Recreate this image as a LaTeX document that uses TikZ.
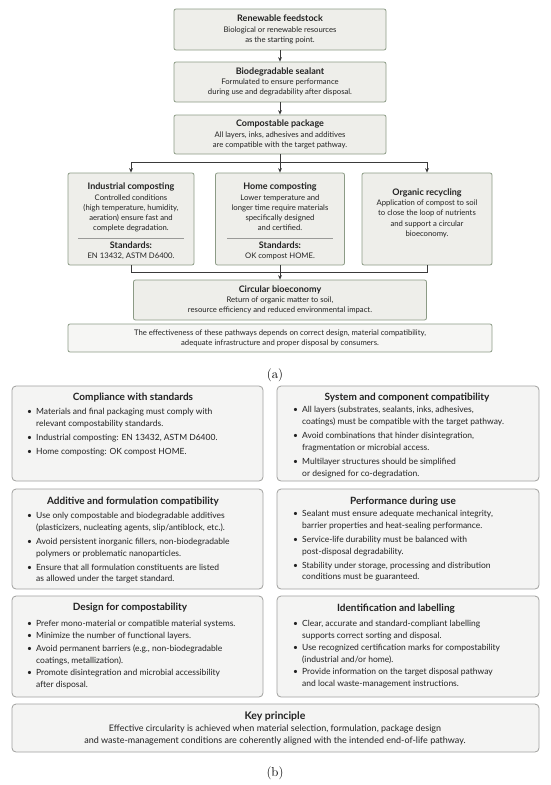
\documentclass[tikz,border=0pt]{standalone}
\usepackage{fontspec}
\setsansfont{Lato}
\usetikzlibrary{positioning,arrows.meta}

\definecolor{flowfill}{HTML}{EEEEEA}
\definecolor{flowedge}{HTML}{8C9B86}
\definecolor{notefill}{HTML}{F6F6F4}
\definecolor{cardfill}{HTML}{F4F4F3}
\definecolor{cardedge}{HTML}{A0A09E}
\definecolor{linkcol}{HTML}{3A3A3A}
\definecolor{inkcol}{HTML}{222222}
\definecolor{rulecol}{HTML}{9A9A98}

\newcommand{\bul}{\makebox[9pt][l]{\textbullet}}
\newcommand{\bcont}{\hspace*{9pt}}
\newcommand{\ttl}[1]{{\bfseries\fontsize{9}{10.2}\selectfont #1}}
\newcommand{\seprule}{{\color{rulecol}\rule{106pt}{0.6pt}}}

\tikzset{
  flowbox/.style={draw=flowedge, fill=flowfill, rounded corners=2pt, line width=0.8pt,
    inner sep=0pt, align=center, text=inkcol, font=\sffamily\fontsize{7.7}{10.2}\selectfont},
  flowtext/.style={inner sep=0pt, align=center, text=inkcol,
    font=\sffamily\fontsize{7.7}{10.2}\selectfont},
  cardbox/.style={draw=cardedge, fill=cardfill, rounded corners=4pt, line width=0.8pt, inner sep=0pt},
  cardtitle/.style={inner sep=0pt, text=inkcol, font=\sffamily\bfseries\fontsize{10}{12}\selectfont},
  cardlist/.style={inner sep=0pt, align=left, anchor=north west, text=inkcol,
    font=\sffamily\fontsize{8.5}{11.8}\selectfont},
  link/.style={draw=linkcol, line width=0.8pt},
  panel/.style={inner sep=0pt, font=\rmfamily\fontsize{13}{15}\selectfont},
}

\begin{document}
\begin{tikzpicture}[x=1pt, y=-1pt, >={Stealth[length=4.5pt,width=3.8pt]}]
\useasboundingbox (0,0) rectangle (550,785);

% (a) pathway chain
\node[flowbox, minimum width=212pt, minimum height=41pt] (feed) at (280,29.5)
  {\ttl{Renewable feedstock}\\Biological or renewable resources\\as the starting point.};
\node[flowbox, minimum width=212pt, minimum height=40pt] (seal) at (280,82)
  {\ttl{Biodegradable sealant}\\Formulated to ensure performance\\during use and degradability after disposal.};
\node[flowbox, minimum width=212pt, minimum height=39pt] (pack) at (280,134.5)
  {\ttl{Compostable package}\\All layers, inks, adhesives and additives\\are compatible with the target pathway.};

% three end-of-life routes
\node[flowbox, minimum width=126pt, minimum height=92pt] (ind) at (131,219) {};
\node[flowbox, minimum width=129pt, minimum height=92pt] (home) at (280,219) {};
\node[flowbox, minimum width=130pt, minimum height=92pt] (org) at (427,219) {};

\node[flowtext, below=10.5pt of ind.north] (indtext)
  {\ttl{Industrial composting}\\Controlled conditions\\(high temperature, humidity,\\aeration) ensure fast and\\complete degradation.\\[-2.5pt]
   \seprule\\[-0.5pt]\ttl{Standards:}\\EN 13432, ASTM D6400.};
\node[flowtext, below=10.5pt of home.north] (hometext)
  {\ttl{Home composting}\\Lower temperature and\\longer time require materials\\specifically designed\\and certified.\\[-2.5pt]
   \seprule\\[-0.5pt]\ttl{Standards:}\\OK compost HOME.};
\node[flowtext, below=16pt of org.north] (orgtext)
  {\ttl{Organic recycling}\\Application of compost to soil\\to close the loop of nutrients\\and support a circular\\bioeconomy.};

\node[flowbox, minimum width=293pt, minimum height=40pt] (circ) at (280,300)
  {\ttl{Circular bioeconomy}\\Return of organic matter to soil,\\resource efficiency and reduced environmental impact.};
\node[flowbox, fill=notefill, minimum width=424pt, minimum height=28pt] (eff) at (280,338)
  {The effectiveness of these pathways depends on correct design, material compatibility,\\adequate infrastructure and proper disposal by consumers.};

\coordinate (split) at (280,162);
\coordinate (merge) at (280,272);

\draw[link, ->] (feed) -- (seal);
\draw[link, ->] (seal) -- (pack);
\draw[link] (pack) -- (split);
\draw[link, ->] (split) -| (ind);
\draw[link, ->] (split) -- (home);
\draw[link, ->] (split) -| (org);
\draw[link] (ind) |- (merge);
\draw[link] (org) |- (merge);
\draw[link] (home) -- (merge);
\draw[link, ->] (merge) -- (circ);

\node[panel] (lbla) at (275,375) {(a)};

% (b) design requirements
\node[cardbox, minimum width=251pt, minimum height=95pt] (comp) at (137.5,433.5) {};
\node[cardbox, minimum width=262pt, minimum height=95pt] (sys) at (408,433.5) {};
\node[cardbox, minimum width=251pt, minimum height=100pt] (addf) at (137.5,539) {};
\node[cardbox, minimum width=262pt, minimum height=100pt] (perf) at (408,539) {};
\node[cardbox, minimum width=251pt, minimum height=101pt] (dsgn) at (137.5,646.5) {};
\node[cardbox, minimum width=262pt, minimum height=101pt] (ident) at (408,646.5) {};
\node[cardbox, minimum width=527pt, minimum height=48pt] (keyp) at (275.5,728) {};

\node[cardtitle] (compT) at (133,398) {Compliance with standards};
\node[cardtitle] (sysT) at (407,398) {System and component compatibility};
\node[cardtitle] (addfT) at (133,502) {Additive and formulation compatibility};
\node[cardtitle] (perfT) at (403,502) {Performance during use};
\node[cardtitle] (dsgnT) at (130,608) {Design for compostability};
\node[cardtitle] (identT) at (396,609) {Identification and labelling};
\node[cardtitle, font=\sffamily\bfseries\fontsize{10.5}{12}\selectfont] (keypT) at (275,716) {Key principle};

\node[cardlist] (compL) at (27,408) {%
  \bul Materials and final packaging must comply with\\
  \bcont relevant compostability standards.\\[2.2pt]
  \bul Industrial composting: EN 13432, ASTM D6400.\\[2.2pt]
  \bul Home composting: OK compost HOME.};
\node[cardlist] (sysL) at (293,406) {%
  \bul All layers (substrates, sealants, inks, adhesives,\\
  \bcont coatings) must be compatible with the target pathway.\\[2.2pt]
  \bul Avoid combinations that hinder disintegration,\\
  \bcont fragmentation or microbial access.\\[2.2pt]
  \bul Multilayer structures should be simplified\\
  \bcont or designed for co-degradation.};
\node[cardlist] (addfL) at (27,512) {%
  \bul Use only compostable and biodegradable additives\\
  \bcont (plasticizers, nucleating agents, slip/antiblock, etc.).\\[2.2pt]
  \bul Avoid persistent inorganic fillers, non-biodegradable\\
  \bcont polymers or problematic nanoparticles.\\[2.2pt]
  \bul Ensure that all formulation constituents are listed\\
  \bcont as allowed under the target standard.};
\node[cardlist] (perfL) at (293,510) {%
  \bul Sealant must ensure adequate mechanical integrity,\\
  \bcont barrier properties and heat-sealing performance.\\[2.2pt]
  \bul Service-life durability must be balanced with\\
  \bcont post-disposal degradability.\\[2.2pt]
  \bul Stability under storage, processing and distribution\\
  \bcont conditions must be guaranteed.};
\node[cardlist] (dsgnL) at (27,620) {%
  \bul Prefer mono-material or compatible material systems.\\[0.6pt]
  \bul Minimize the number of functional layers.\\[0.6pt]
  \bul Avoid permanent barriers (e.g., non-biodegradable\\
  \bcont coatings, metallization).\\[0.6pt]
  \bul Promote disintegration and microbial accessibility\\
  \bcont after disposal.};
\node[cardlist] (identL) at (293,620) {%
  \bul Clear, accurate and standard-compliant labelling\\
  \bcont supports correct sorting and disposal.\\[0.6pt]
  \bul Use recognized certification marks for compostability\\
  \bcont (industrial and/or home).\\[0.6pt]
  \bul Provide information on the target disposal pathway\\
  \bcont and local waste-management instructions.};
\node[cardlist, anchor=center, align=center, font=\sffamily\fontsize{9}{12}\selectfont] (keypL) at (275,735) {%
  Effective circularity is achieved when material selection, formulation, package design\\
  and waste-management conditions are coherently aligned with the intended end-of-life pathway.};

\node[panel] (lblb) at (275,773) {(b)};
\end{tikzpicture}
\end{document}
